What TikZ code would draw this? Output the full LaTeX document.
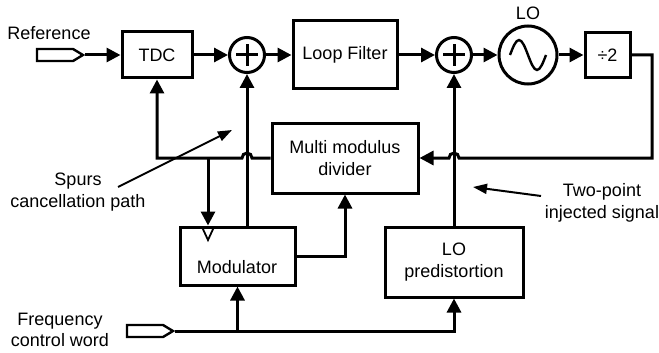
\documentclass[tikz,border=0pt]{standalone}
\usepackage{fontspec}
\setmainfont{Liberation Sans}
\usetikzlibrary{arrows.meta,shapes.symbols,calc}

\begin{document}
\begin{tikzpicture}[x=1pt,y=1pt,
  line width=3pt,
  font=\fontsize{18}{21.5}\selectfont,
  blk/.style={draw, align=center, inner sep=0pt},
  sumnode/.style={draw, circle, minimum size=35pt, inner sep=0pt,
    path picture={\draw ([xshift=-11pt]path picture bounding box.center) -- ([xshift=11pt]path picture bounding box.center)
                        ([yshift=-11pt]path picture bounding box.center) -- ([yshift=11pt]path picture bounding box.center);}},
  pinnode/.style={draw, signal, signal to=east, signal pointer angle=62,
    minimum width=46pt, minimum height=12pt, inner sep=0pt, line width=2.4pt},
  sig/.style={-{Triangle[length=14pt,width=14pt]}},
  note/.style={line width=2pt, -{Triangle[length=14pt,width=10pt]}},
]
\useasboundingbox (0,0) rectangle (659,-353);

% blocks
\node[pinnode] (refin) at (55,-55) {};
\node[blk, minimum width=70pt, minimum height=46pt] (tdc) at (157,-55) {TDC};
\node[sumnode] (s1) at (247,-55) {};
\node[blk, minimum width=104pt, minimum height=68pt] (lf) at (345,-55) {Loop Filter};
\node[sumnode] (s2) at (454,-55) {};
\node[draw, circle, minimum size=58pt, inner sep=0pt] (lo) at (528,-55) {};
\node[blk, minimum width=45pt, minimum height=45pt] (div) at (607.5,-55) {÷2};
\node[blk, minimum width=146pt, minimum height=70pt] (mmd) at (345,-158) {Multi modulus\\divider};
\node[blk, minimum width=115pt, minimum height=58pt] (mod) at (237.5,-256) {};
\node (modtxt) at (237,-267) {Modulator};
\node[blk, minimum width=138pt, minimum height=70pt] (lop) at (454,-262) {LO\\predistortion};
\node[pinnode] (fcw) at (145,-331) {};

% oscillator symbol
\draw[line width=2.4pt] (510,-55) sin (519,-40) cos (528,-55) sin (537,-70) cos (546,-55);

% labels
\node (lref) at (49,-33) {Reference};
\node (llo) at (528,-13) {LO};
\node[align=center] (lspur) at (78,-192) {Spurs\\cancellation path};
\node[align=center] (ltwo) at (602,-203) {Two-point\\injected signal};
\node[align=center] (lfcw) at (60,-330) {Frequency\\control word};

% forward path
\draw[sig] (refin.east) -- (tdc.west);
\draw[sig] (tdc.east) -- (s1.west);
\draw[sig] (s1.east) -- (lf.west);
\draw[sig] (lf.east) -- (s2.west);
\draw[sig] (s2.east) -- (lo.west);
\draw[sig] (lo.east) -- (div.west);

% divider feedback
\coordinate (fbR) at (652,-55);
\draw[sig] (div.east) -- (fbR) -- (fbR |- mmd.east) -- ([xshift=5pt]s2.south |- mmd.east)
  arc[start angle=0, end angle=180, radius=5pt] -- (mmd.east);
\draw[sig] (mmd.west) -- ([xshift=5pt]s1.south |- mmd.west)
  arc[start angle=0, end angle=180, radius=5pt] -- (tdc.south |- mmd.west) -- (tdc.south);
\coordinate (tapM) at (208,-158);
\draw[sig] (tapM) -- (tapM |- mod.north);
\draw[line width=1.8pt] (202,-227) -- (208,-240) -- (214,-227);

% modulator outputs
\draw[sig] (s1.south |- mod.north) -- (s1.south);
\draw[sig] (mod.east) -- (mod.east -| mmd.south) -- (mmd.south);

% frequency control word
\draw[sig] (fcw.east) -- (fcw.east -| lop.south) -- (lop.south);
\draw[sig] (mod.south |- fcw.east) -- (mod.south);
\draw[sig] (lop.north) -- (s2.south);

% annotations
\coordinate (spA) at (118,-187);
\coordinate (spB) at (232,-130);
\draw[note] (spA) -- (spB);
\coordinate (tpA) at (541,-196);
\coordinate (tpB) at (473,-187);
\draw[note] (tpA) -- (tpB);
\end{tikzpicture}
\end{document}
